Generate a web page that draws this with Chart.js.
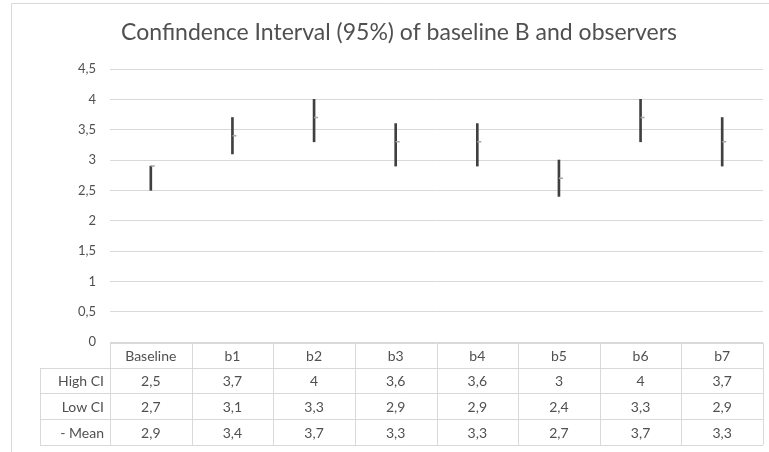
<!DOCTYPE html>
<html>
<head>
<meta charset="utf-8">
<script src="https://cdn.jsdelivr.net/npm/chart.js@4/dist/chart.umd.min.js"></script>
<style>
  html, body { margin: 0; padding: 0; background: #ffffff; }
  #wrap { width: 769px; height: 452px; position: relative; }
</style>
</head>
<body>
<div id="wrap"><canvas id="c" width="769" height="452"></canvas></div>
<script>
const categories = ["Baseline", "b1", "b2", "b3", "b4", "b5", "b6", "b7"];
const highCI = [2.5, 3.7, 4, 3.6, 3.6, 3, 4, 3.7];
const lowCI  = [2.7, 3.1, 3.3, 2.9, 2.9, 2.4, 3.3, 2.9];
const mean   = [2.9, 3.4, 3.7, 3.3, 3.3, 2.7, 3.7, 3.3];
const rowLabels = ["High CI", "Low CI", "- Mean"];
const titleText = "Confindence Interval (95%) of baseline B and observers";

const fmt = v => String(v).replace('.', ',');
const FONT = "Lato, 'Open Sans', sans-serif";
const TXT = "#505050";
const LINE = "#d9d9d9";

// high-low line spans all three series per category (Excel stock chart style)
const ranges = categories.map((_, i) => [
  Math.min(highCI[i], lowCI[i], mean[i]),
  Math.max(highCI[i], lowCI[i], mean[i])
]);

const framePlugin = {
  id: 'frame',
  beforeDraw(chart) {
    const ctx = chart.ctx;
    ctx.save();
    ctx.strokeStyle = LINE;
    ctx.lineWidth = 1;
    ctx.beginPath();
    ctx.moveTo(11.5, 452);
    ctx.lineTo(11.5, 3.5);
    ctx.lineTo(769, 3.5);
    ctx.stroke();
    ctx.fillStyle = TXT;
    ctx.font = "23px " + FONT;
    ctx.textAlign = 'center';
    ctx.textBaseline = 'middle';
    ctx.fillText(titleText, 399, 33);
    ctx.restore();
  }
};

const tablePlugin = {
  id: 'dataTable',
  afterDraw(chart) {
    const ctx = chart.ctx;
    const x = chart.scales.x;
    const top = Math.round(chart.chartArea.bottom) + 1;
    const rowsY = [top, top + 25, top + 50, top + 76, top + 102];
    const left = x.left, right = x.right;
    const labelLeft = 40;
    const n = categories.length;
    const colW = (right - left) / n;
    ctx.save();
    ctx.strokeStyle = LINE;
    ctx.lineWidth = 1;
    ctx.beginPath();
    ctx.moveTo(left, rowsY[0] + 0.5); ctx.lineTo(right, rowsY[0] + 0.5);
    for (let r = 1; r < rowsY.length; r++) {
      ctx.moveTo(labelLeft, rowsY[r] + 0.5); ctx.lineTo(right, rowsY[r] + 0.5);
    }
    ctx.moveTo(labelLeft + 0.5, rowsY[1]); ctx.lineTo(labelLeft + 0.5, rowsY[4]);
    for (let c = 0; c <= n; c++) {
      const xx = Math.round(left + c * colW) + 0.5;
      ctx.moveTo(xx, rowsY[0]); ctx.lineTo(xx, rowsY[4]);
    }
    ctx.stroke();

    ctx.fillStyle = TXT;
    ctx.font = "14px " + FONT;
    ctx.textBaseline = 'middle';
    ctx.textAlign = 'center';
    const series = [highCI, lowCI, mean];
    for (let c = 0; c < n; c++) {
      const cx = x.getPixelForValue(c);
      ctx.fillText(categories[c], cx, (rowsY[0] + rowsY[1]) / 2 + 1);
      for (let r = 0; r < 3; r++) {
        ctx.fillText(fmt(series[r][c]), cx, (rowsY[r + 1] + rowsY[r + 2]) / 2 + 1);
      }
    }
    ctx.textAlign = 'right';
    for (let r = 0; r < 3; r++) {
      ctx.fillText(rowLabels[r], left - 6, (rowsY[r + 1] + rowsY[r + 2]) / 2 + 1);
    }
    ctx.restore();
  }
};

new Chart(document.getElementById('c'), {
  type: 'bar',
  data: {
    labels: categories,
    datasets: [
      {
        label: 'High-Low',
        data: ranges,
        backgroundColor: '#404040',
        borderWidth: 0,
        barThickness: 2,
        grouped: false,
        order: 2
      },
      {
        type: 'line',
        label: 'Mean',
        data: mean,
        showLine: false,
        pointStyle: 'dash',
        pointRadius: 4,
        pointBorderWidth: 1.5,
        borderColor: '#a6a6a6',
        backgroundColor: '#a6a6a6',
        order: 1
      }
    ]
  },
  options: {
    responsive: false,
    animation: false,
    events: [],
    layout: { padding: { left: 0, right: 6, top: 69, bottom: 110 } },
    plugins: {
      legend: { display: false },
      tooltip: { enabled: false },
      title: { display: false }
    },
    scales: {
      x: {
        display: false,
        offset: true
      },
      y: {
        min: 0,
        max: 4.5,
        afterFit(scale) { scale.width = 110; },
        ticks: {
          stepSize: 0.5,
          padding: 14,
          color: TXT,
          font: { family: FONT, size: 13 },
          callback: v => fmt(v)
        },
        grid: { color: LINE, lineWidth: 1, drawTicks: false },
        border: { display: false }
      }
    }
  },
  plugins: [framePlugin, tablePlugin]
});
</script>
</body>
</html>
